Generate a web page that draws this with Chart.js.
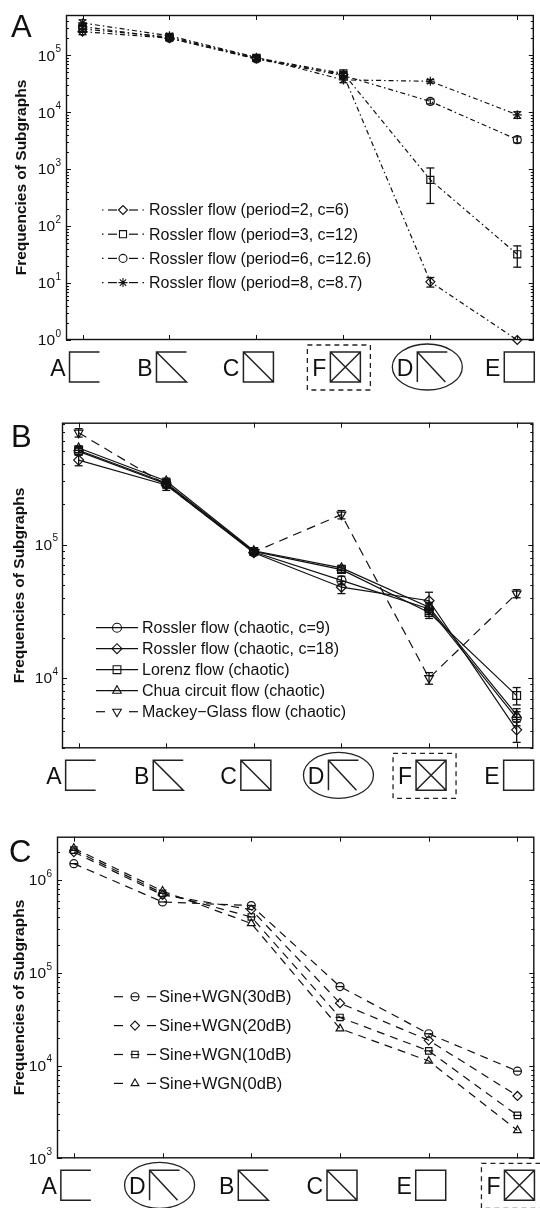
<!DOCTYPE html>
<html>
<head>
<meta charset="utf-8">
<script src="https://cdn.jsdelivr.net/npm/chart.js@4.4.0/dist/chart.umd.min.js"></script>
<style>
  html, body { margin: 0; padding: 0; background: #fff; }
  #wrap { position: relative; width: 540px; height: 1208px; overflow: hidden; }
  canvas { position: absolute; left: 0; }
</style>
</head>
<body>
<div id="wrap">
  <canvas id="chartA" width="540" height="395" style="top:0px"></canvas>
  <canvas id="chartB" width="540" height="410" style="top:395px"></canvas>
  <canvas id="chartC" width="540" height="403" style="top:805px"></canvas>
</div>
<script>
// ---- data ----
// subgraph categories (x axis order) for each panel
const catsA = ['A', 'B', 'C', 'F', 'D', 'E'];
const catsB = ['A', 'B', 'C', 'D', 'F', 'E'];
const catsC = ['A', 'D', 'B', 'C', 'E', 'F'];

// panel A: periodic Rossler flows
const labelsA = ['Rossler flow (period=2, c=6)', 'Rossler flow (period=3, c=12)',
                 'Rossler flow (period=6, c=12.6)', 'Rossler flow (period=8, c=8.7)'];
const rosP2 = [2.6e5, 2.0e5, 8.8e4, 4.6e4, 10.5, 1.0];
const rosP3 = [2.9e5, 2.1e5, 9.0e4, 4.8e4, 650, 32];
const rosP6 = [3.2e5, 2.0e5, 8.6e4, 4.4e4, 1.55e4, 3.3e3];
const rosP8 = [3.7e5, 2.2e5, 9.2e4, 3.7e4, 3.5e4, 9.0e3];
const errP2 = [3e4, 2e4, 8e3, 4e3, 2, 0];
const errP3 = [3e4, 2e4, 8e3, 4e3, 400, 13];
const errP6 = [3e4, 2e4, 8e3, 4e3, 1500, 400];
const errP8 = [5e4, 2e4, 8e3, 4e3, 2500, 1200];

// panel B: chaotic flows
const labelsB = ['Rossler flow (chaotic, c=9)', 'Rossler flow (chaotic, c=18)', 'Lorenz flow (chaotic)',
                 'Chua circuit flow (chaotic)', 'Mackey\u2212Glass flow (chaotic)'];
const rosC9 = [5.0e5, 2.85e5, 8.8e4, 5.4e4, 3.3e4, 5.0e3];
const rosC18 = [4.3e5, 2.8e5, 8.7e4, 4.8e4, 3.8e4, 4.1e3];
const lorenz = [5.1e5, 2.9e5, 8.9e4, 6.5e4, 3.1e4, 7.4e3];
const chua = [5.3e5, 3.0e5, 9.0e4, 6.7e4, 3.4e4, 5.3e3];
const mackey = [6.9e5, 2.8e5, 8.8e4, 1.68e5, 1.0e4, 4.3e4];
const errC9 = [3e4, 1.5e4, 4e3, 4e3, 3e3, 600];
const errC18 = [4e4, 2.5e4, 4e3, 5e3, 6e3, 800];
const errLor = [2e4, 1.5e4, 3e3, 3e3, 3e3, 1100];
const errChua = [2e4, 1.5e4, 3e3, 3e3, 3e3, 600];
const errMac = [5e4, 1.5e4, 3e3, 1.2e4, 1000, 3000];

// panel C: sine + white gaussian noise
const labelsC = ['Sine+WGN(30dB)', 'Sine+WGN(20dB)', 'Sine+WGN(10dB)', 'Sine+WGN(0dB)'];
const wgn30 = [1.5e6, 5.8e5, 5.3e5, 7.1e4, 2.2e4, 8.7e3];
const wgn20 = [2.0e6, 6.9e5, 4.8e5, 4.7e4, 1.87e4, 4.7e3];
const wgn10 = [2.1e6, 7.2e5, 4.0e5, 3.3e4, 1.44e4, 2.9e3];
const wgn0 = [2.2e6, 7.6e5, 3.4e5, 2.5e4, 1.12e4, 2.0e3];

const FONT = '"Liberation Sans", Arial, Helvetica, sans-serif';
const INK = '#111';

function pts(vals) { return vals.map((v, i) => ({ x: i, y: v })); }

function ds(label, vals, errs, marker, opts) {
  return Object.assign({
    label: label,
    data: pts(vals),
    errors: errs,
    borderColor: INK,
    borderWidth: 1.2,
    pointStyle: marker,
    pointRadius: 4,
    pointBorderColor: INK,
    pointBorderWidth: 1.2,
    pointBackgroundColor: 'rgba(0,0,0,0)',
    pointHoverRadius: 4,
    tension: 0,
    fill: false,
    clip: false
  }, opts || {});
}

// ---- drawing helpers ----
function seg(ctx, x0, y0, x1, y1) {
  ctx.beginPath(); ctx.moveTo(x0, y0); ctx.lineTo(x1, y1); ctx.stroke();
}

function motif(ctx, kind, L, T, w, h) {
  const R = L + w, B = T + h;
  ctx.beginPath();
  if (kind === 'A') { ctx.moveTo(R, T); ctx.lineTo(L, T); ctx.lineTo(L, B); ctx.lineTo(R, B); }
  else if (kind === 'B') { ctx.moveTo(R, T); ctx.lineTo(L, T); ctx.lineTo(L, B); ctx.lineTo(R, B); ctx.lineTo(L, T); }
  else if (kind === 'C') { ctx.rect(L, T, w, h); ctx.moveTo(L, T); ctx.lineTo(R, B); }
  else if (kind === 'D') { ctx.moveTo(R, T); ctx.lineTo(L, T); ctx.lineTo(L, B); ctx.moveTo(L, T); ctx.lineTo(R - 2, B); }
  else if (kind === 'E') { ctx.rect(L, T, w, h); }
  else if (kind === 'F') { ctx.rect(L, T, w, h); ctx.moveTo(L, T); ctx.lineTo(R, B); ctx.moveTo(R, T); ctx.lineTo(L, B); }
  ctx.stroke();
}

// axes frame, MATLAB-like inward ticks, labels, subgraph icons
const framePlugin = {
  id: 'frame',
  afterDraw(chart) {
    const o = chart.options.plugins.frame;
    if (!o) return;
    const { ctx, chartArea: a } = chart;
    const x = chart.scales.x, y = chart.scales.y;
    ctx.save();
    ctx.strokeStyle = INK; ctx.fillStyle = INK;
    ctx.lineWidth = 1.4;
    ctx.strokeRect(a.left + 0.5, a.top + 0.5, a.right - a.left - 1, a.bottom - a.top - 1);

    // log ticks left & right
    ctx.lineWidth = 1;
    const kLo = Math.floor(Math.log10(y.min)), kHi = Math.ceil(Math.log10(y.max));
    for (let k = kLo; k <= kHi; k++) {
      for (let m = 1; m <= 9; m++) {
        const v = m * Math.pow(10, k);
        if (v < y.min * 0.999 || v > y.max * 1.001) continue;
        const py = Math.round(y.getPixelForValue(v)) + 0.5;
        const len = m === 1 ? 5 : 3;
        seg(ctx, a.left, py, a.left + len, py);
        seg(ctx, a.right - len, py, a.right, py);
      }
    }
    // category ticks top & bottom
    o.cats.forEach((c, i) => {
      const px = Math.round(x.getPixelForValue(i)) + 0.5;
      seg(ctx, px, a.bottom, px, a.bottom - 5);
      seg(ctx, px, a.top, px, a.top + 5);
    });

    // y tick labels 10^k
    for (let k = kLo; k <= kHi; k++) {
      const v = Math.pow(10, k);
      if (v < y.min * 0.999 || v > y.max * 1.001) continue;
      const py = y.getPixelForValue(v);
      ctx.font = '15.5px ' + FONT;
      ctx.textAlign = 'right'; ctx.textBaseline = 'middle';
      ctx.fillText('10', o.tickRight, py + 1);
      ctx.font = '10px ' + FONT;
      ctx.textAlign = 'left';
      ctx.fillText(String(k), o.tickRight + 0.5, py - 6);
    }

    // y axis title
    ctx.save();
    ctx.translate(o.titleX, (a.top + a.bottom) / 2);
    ctx.rotate(-Math.PI / 2);
    ctx.font = 'bold 15.5px ' + FONT;
    ctx.textAlign = 'center'; ctx.textBaseline = 'middle';
    ctx.fillText('Frequencies of Subgraphs', 0, 0);
    ctx.restore();

    // panel letter
    ctx.font = '31px ' + FONT;
    ctx.textAlign = 'left'; ctx.textBaseline = 'alphabetic';
    ctx.fillText(o.letter, o.letterX, o.letterY);

    // subgraph icons under the axis
    const w = 30, h = 30, T = a.bottom + 12;
    o.cats.forEach((c, i) => {
      const px = x.getPixelForValue(i);
      const L = px - 13;
      ctx.strokeStyle = '#222';
      ctx.lineWidth = 1.5;
      ctx.setLineDash([]);
      motif(ctx, c, L, T, w, h);
      ctx.font = '23px ' + FONT;
      ctx.textAlign = 'right'; ctx.textBaseline = 'alphabetic';
      ctx.fillText(c, L - 4, T + 24);
      if (c === 'D') {
        ctx.lineWidth = 1.3;
        ctx.beginPath();
        ctx.ellipse(L + 10, T + h / 2, 35, 23, 0, 0, Math.PI * 2);
        ctx.stroke();
      } else if (c === 'F') {
        ctx.lineWidth = 1.3;
        ctx.setLineDash([5, 4]);
        ctx.strokeRect(L - 23, T - 7, w + 33, h + 15);
        ctx.setLineDash([]);
      }
    });
    ctx.restore();
  }
};

// vertical error bars with caps
const errorPlugin = {
  id: 'errbars',
  afterDatasetsDraw(chart) {
    const { ctx } = chart;
    const x = chart.scales.x, y = chart.scales.y;
    ctx.save();
    ctx.strokeStyle = INK; ctx.lineWidth = 1.3;
    chart.data.datasets.forEach(d => {
      if (d.errors) {
        d.errors.forEach((e, i) => {
          if (!e) return;
          const v = d.data[i].y;
          const px = x.getPixelForValue(i);
          const yt = y.getPixelForValue(v + e);
          const yb = y.getPixelForValue(Math.max(v - e, v * 0.05));
          seg(ctx, px, yt, px, yb);
          seg(ctx, px - 4, yt, px + 4, yt);
          seg(ctx, px - 4, yb, px + 4, yb);
        });
      }
      if (d.midBar) {
        d.data.forEach((p, i) => {
          const px = x.getPixelForValue(i), py = y.getPixelForValue(p.y);
          seg(ctx, px - d.pointRadius, py, px + d.pointRadius, py);
        });
      }
    });
    ctx.restore();
  }
};

// MATLAB-style legend without box
const legendPlugin = {
  id: 'figLegend',
  afterDraw(chart) {
    const o = chart.options.plugins.figLegend;
    if (!o) return;
    const { ctx } = chart;
    ctx.save();
    chart.data.datasets.forEach((d, i) => {
      const cy = o.y0 + i * o.dy;
      const mx = o.markerX;
      ctx.strokeStyle = INK; ctx.lineWidth = 1.2;
      const pattern = d.legendPattern || 'solid';
      let segs;
      if (pattern === 'solid') segs = [[-21, 21]];
      else if (pattern === 'dashed') segs = [[-21, -12], [12, 21]];
      else segs = [[-21, -19.5], [-15, -6], [6, 15], [19.5, 21]];
      segs.forEach(s => seg(ctx, mx + s[0], cy, mx + s[1], cy));
      ctx.fillStyle = 'rgba(0,0,0,0)';
      ctx.lineWidth = 1.1;
      Chart.helpers.drawPoint(ctx, {
        pointStyle: d.pointStyle, rotation: d.pointRotation || 0,
        radius: d.pointRadius, borderWidth: 1.1
      }, mx, cy);
      if (d.midBar) seg(ctx, mx - d.pointRadius, cy, mx + d.pointRadius, cy);
      ctx.fillStyle = INK;
      ctx.font = o.font + 'px ' + FONT;
      ctx.textAlign = 'left'; ctx.textBaseline = 'middle';
      ctx.fillText(d.label, o.textX, cy + 1);
    });
    ctx.restore();
  }
};

function makeChart(id, datasets, yMin, yMax, pad, frame, legend) {
  return new Chart(document.getElementById(id), {
    type: 'line',
    data: { datasets: datasets },
    options: {
      responsive: false,
      animation: false,
      layout: { padding: pad },
      scales: {
        x: { type: 'linear', min: -0.19, max: 5.19, display: false },
        y: { type: 'logarithmic', min: yMin, max: yMax, display: false }
      },
      plugins: {
        legend: { display: false },
        tooltip: { enabled: false },
        frame: frame,
        figLegend: legend
      }
    },
    plugins: [framePlugin, errorPlugin, legendPlugin]
  });
}

const dashDot = [5, 3, 1.5, 3];

makeChart('chartA', [
  ds(labelsA[0], rosP2, errP2, 'rectRot', { borderDash: dashDot, legendPattern: 'dashdot', pointRadius: 4.5 }),
  ds(labelsA[1], rosP3, errP3, 'rect', { borderDash: dashDot, legendPattern: 'dashdot', pointRadius: 5 }),
  ds(labelsA[2], rosP6, errP6, 'circle', { borderDash: dashDot, legendPattern: 'dashdot', pointRadius: 4 }),
  ds(labelsA[3], rosP8, errP8, 'star', { borderDash: dashDot, legendPattern: 'dashdot', pointRadius: 4.5 })
], 1, 5.1e5,
  { left: 66, top: 15, right: 1, bottom: 55 },
  { cats: catsA, letter: 'A', letterX: 11, letterY: 37, tickRight: 55, titleX: 22 },
  { markerX: 123, textX: 149, y0: 210, dy: 24.2, font: 16 });

makeChart('chartB', [
  ds(labelsB[0], rosC9, errC9, 'circle', { pointRadius: 4.5 }),
  ds(labelsB[1], rosC18, errC18, 'rectRot', { pointRadius: 5 }),
  ds(labelsB[2], lorenz, errLor, 'rect', { pointRadius: 5.5 }),
  ds(labelsB[3], chua, errChua, 'triangle', { pointRadius: 5 }),
  ds(labelsB[4], mackey, errMac, 'triangle', { pointRotation: 180, borderDash: [9, 6], legendPattern: 'dashed', pointRadius: 5 })
], 2.98e3, 8.2e5,
  { left: 62, top: 27.7, right: 1, bottom: 56.7 },
  { cats: catsB, letter: 'B', letterX: 11, letterY: 52, tickRight: 52, titleX: 20 },
  { markerX: 117, textX: 142, y0: 232.7, dy: 21, font: 16 });

makeChart('chartC', [
  ds(labelsC[0], wgn30, null, 'circle', { borderDash: [8, 6], legendPattern: 'dashed', pointRadius: 4, midBar: true }),
  ds(labelsC[1], wgn20, null, 'rectRot', { borderDash: [8, 6], legendPattern: 'dashed', pointRadius: 4.5 }),
  ds(labelsC[2], wgn10, null, 'rect', { borderDash: [8, 6], legendPattern: 'dashed', pointRadius: 4.5, midBar: true }),
  ds(labelsC[3], wgn0, null, 'triangle', { borderDash: [8, 6], legendPattern: 'dashed', pointRadius: 4.5 })
], 1e3, 2.93e6,
  { left: 57, top: 31.7, right: 1, bottom: 49.7 },
  { cats: catsC, letter: 'C', letterX: 9, letterY: 57, tickRight: 46, titleX: 20 },
  { markerX: 135, textX: 159, y0: 191.7, dy: 28.9, font: 16.5 });
</script>
</body>
</html>
